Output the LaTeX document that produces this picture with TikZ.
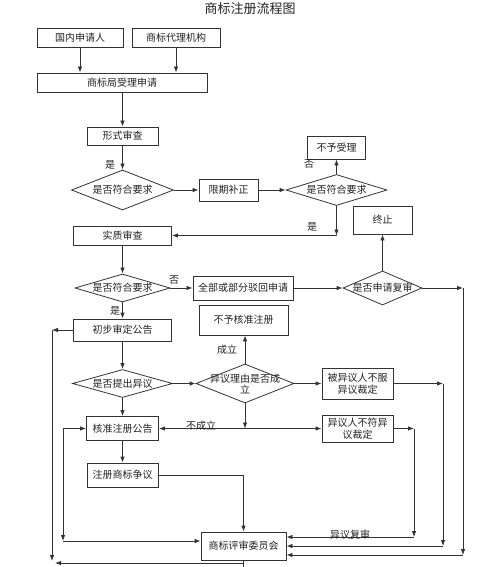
\documentclass[tikz,border=0pt]{standalone}
\usepackage{fontspec}
\setmainfont{Noto Sans CJK SC}
\usetikzlibrary{shapes.geometric,arrows.meta}
\definecolor{ln}{HTML}{333333}
\definecolor{txt}{HTML}{222222}
\begin{document}
\begin{tikzpicture}[x=1pt,y=-1pt,
  every node/.style={font=\fontsize{10}{12}\selectfont, text=txt},
  box/.style={draw=ln, line width=0.8pt, inner sep=0pt, align=center},
  dia/.style={diamond, draw=ln, line width=0.8pt, inner sep=0pt},
  arr/.style={draw=ln, line width=0.8pt, -{Latex[length=6pt,width=4.5pt]}},
  lbl/.style={inner sep=0pt}]
\useasboundingbox (0,0) rectangle (500,567);
\node[font=\fontsize{13}{15}\selectfont] (title) at (250,9) {商标注册流程图};
% boxes
\node[box, minimum width=86pt, minimum height=19pt] (n1) at (80,37.5) {国内申请人};
\node[box, minimum width=88pt, minimum height=19pt] (n2) at (176,37.5) {商标代理机构};
\node[box, minimum width=170pt, minimum height=19pt] (n3) at (122,82.5) {商标局受理申请};
\node[box, minimum width=71pt, minimum height=18pt] (n4) at (122.5,136) {形式审查};
\node[dia, minimum width=102pt, minimum height=40pt] (d1) at (122.5,190) {};
\node (t1) at (d1) {是否符合要求};
\node[box, minimum width=59pt, minimum height=22pt] (n5) at (228.5,190) {限期补正};
\node[dia, minimum width=101pt, minimum height=31pt] (d2) at (336.5,190) {};
\node (t2) at (d2) {是否符合要求};
\node[box, minimum width=58pt, minimum height=23pt] (n6) at (336.5,147.5) {不予受理};
\node[box, minimum width=98pt, minimum height=19pt] (n7) at (122.5,235.5) {实质审查};
\node[box, minimum width=59pt, minimum height=28pt] (n8) at (382.5,220) {终止};
\node[dia, minimum width=95pt, minimum height=28pt] (d3) at (122.5,288) {};
\node (t3) at (d3) {是否符合要求};
\node[box, minimum width=100pt, minimum height=24pt] (n9) at (243,288) {全部或部分驳回申请};
\node[dia, minimum width=79pt, minimum height=34pt] (d4) at (382.5,288) {};
\node (t4) at (d4) {是否申请复审};
\node[box, minimum width=98pt, minimum height=22pt] (n10) at (122.5,330) {初步审定公告};
\node[box, minimum width=89pt, minimum height=30pt] (n11) at (243.5,320) {不予核准注册};
\node[dia, minimum width=100pt, minimum height=28pt] (d5) at (122.5,383.5) {};
\node (t5) at (d5) {是否提出异议};
\node[dia, minimum width=98pt, minimum height=39pt] (d6) at (245,383.5) {};
\node[align=center, font=\fontsize{10}{11}\selectfont] (t6) at (d6) {异议理由是否成\\立};
\node[box, minimum width=71pt, minimum height=31pt, font=\fontsize{10}{11.5}\selectfont] (n12) at (357.5,383.5) {被异议人不服\\异议裁定};
\node[box, minimum width=72pt, minimum height=24pt] (n13) at (122.5,428.5) {核准注册公告};
\node[box, minimum width=71pt, minimum height=27pt, font=\fontsize{10}{11.5}\selectfont] (n14) at (357.5,428.5) {异议人不符异\\议裁定};
\node[box, minimum width=71pt, minimum height=24pt] (n15) at (122.5,475) {注册商标争议};
\node[box, minimum width=85pt, minimum height=28pt] (n16) at (243.5,546) {商标评审委员会};
% connectors
\draw[arr] (n1.south) -- (n1.south |- n3.north);
\draw[arr] (n2.south) -- (n2.south |- n3.north);
\draw[arr] (n3.south -| n4.north) -- (n4.north);
\draw[arr] (n4.south) -- (d1.north);
\node[lbl] (l1) at (110,165) {是};
\draw[arr] (d1.east) -- (n5.west);
\draw[arr] (n5.east) -- (d2.west);
\draw[arr] (d2.north) -- (n6.south);
\node[lbl] (l2) at (309,164) {否};
\coordinate (c1) at (d2.south |- n7.east);
\draw[arr] (d2.south) -- (c1);
\draw[arr] (c1) -- (n7.east);
\node[lbl] (l3) at (312,227) {是};
\draw[arr] (n7.south) -- (d3.north);
\draw[arr] (d3.east) -- (n9.west);
\node[lbl] (l4) at (174,280) {否};
\draw[arr] (n9.east) -- (d4.west);
\draw[arr] (d4.north) -- (n8.south);
\coordinate (r1) at (463,288);
\coordinate (r1b) at (463,555);
\draw[arr] (d4.east) -- (r1);
\draw[arr] (r1) -- (r1b);
\draw[arr] (r1b) -- (r1b -| n16.east);
\draw[arr] (d3.south) -- (n10.north);
\node[lbl] (l5) at (115,311) {是};
\draw[arr] (n10.south) -- (d5.north);
\draw[arr] (d5.east) -- (d6.west);
\draw[arr] (d6.north) -- (d6.north |- n11.south);
\node[lbl] (l6) at (227,350) {成立};
\draw[arr] (d6.east) -- (n12.west);
\coordinate (c2) at (d6.south |- n13.east);
\draw[arr] (d6.south) -- (c2);
\draw[arr] (c2) -- (n13.east);
\draw[arr] (c2) -- (n14.west);
\node[lbl] (l7) at (201,426) {不成立};
\draw[arr] (d5.south) -- (n13.north);
\draw[arr] (n13.south) -- (n15.north);
\draw[arr] (n15.east) -| (n16.north);
\coordinate (r2) at (443,383.5);
\coordinate (r2b) at (443,546);
\draw[arr] (n12.east) -- (r2);
\draw[arr] (r2) -- (r2b);
\draw[arr] (r2b) -- (r2b -| n16.east);
\coordinate (r3) at (414,428.5);
\coordinate (r3b) at (414,537);
\draw[arr] (n14.east) -- (r3);
\draw[arr] (r3) -- (r3b);
\draw[arr] (r3b) -- node[lbl, above=-3pt, pos=0.5] (l8) {异议复审} (r3b -| n16.east);
\coordinate (q1) at (52,330);
\coordinate (q1b) at (52,561);
\draw[arr] (n10.west) -- (q1);
\draw[arr] (q1) -- (q1b);
\coordinate (q2) at (243.5,563);
\coordinate (q3) at (55,563);
\draw[draw=ln, line width=0.8pt] (n16.south) -- (243.5,567);
\draw[arr] (q2) -- (q3);
\coordinate (p1) at (63,428.5);
\coordinate (p1b) at (63,541);
\draw[arr] (p1) -- (n13.west);
\draw[arr] (p1) -- (p1b);
\draw[arr] (p1b) -- (p1b -| n16.west);
\end{tikzpicture}
\end{document}
